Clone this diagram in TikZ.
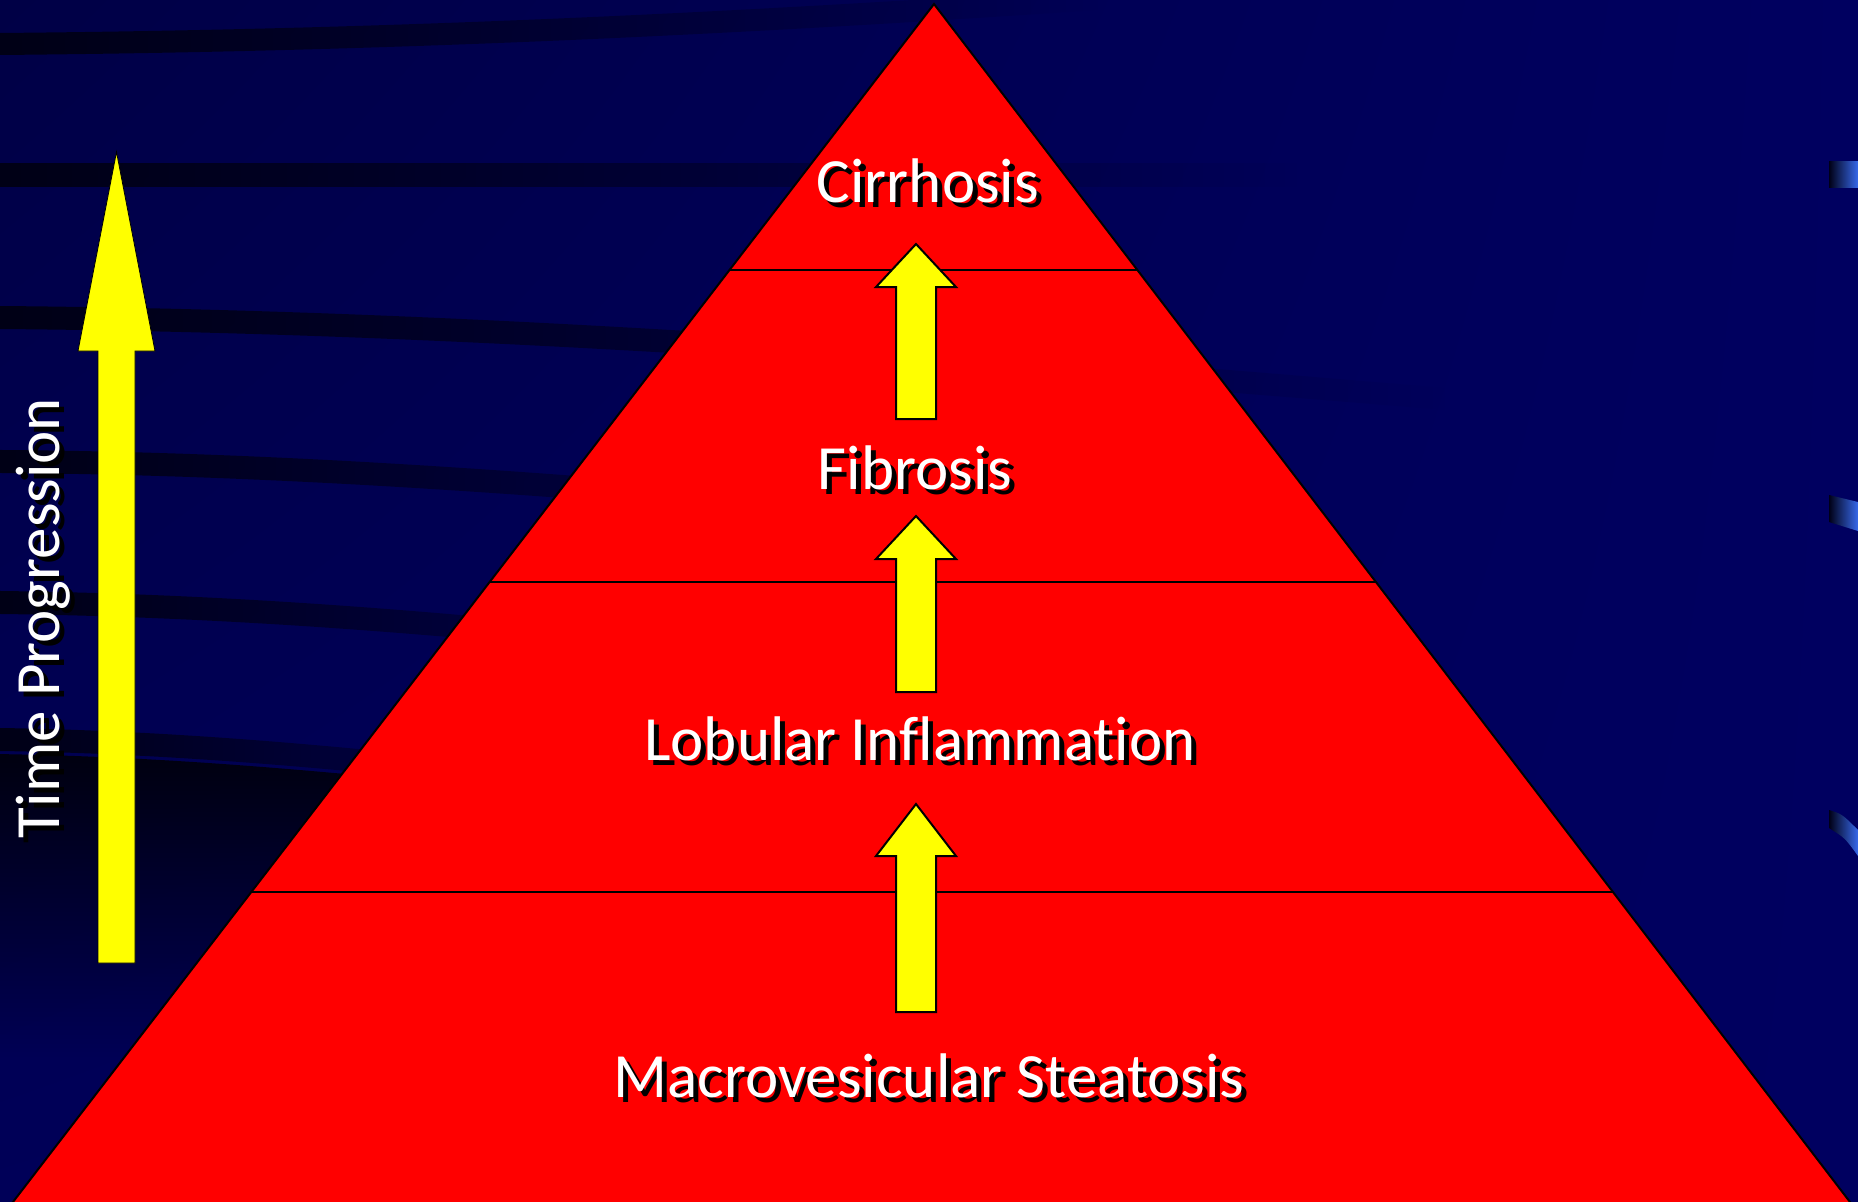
\documentclass[tikz,border=0pt]{standalone}
\usepackage{fontspec}
\setmainfont{Carlito}[Ligatures=NoCommon]
\usetikzlibrary{calc,fadings,shadings}
\definecolor{bgnavy}{RGB}{0,0,96}
\definecolor{bgtl}{RGB}{0,0,70}
\definecolor{bgbl}{RGB}{0,0,88}
\definecolor{stripec}{RGB}{0,0,22}
\definecolor{darkc}{RGB}{0,0,16}
\definecolor{hiblue}{RGB}{55,105,235}
\definecolor{pyrred}{RGB}{255,0,0}
\definecolor{arryellow}{RGB}{255,255,0}
\tikzfading[name=fadeRight, left color=transparent!0, middle color=transparent!0, right color=transparent!100]
\tikzfading[name=fadeDown, top color=transparent!0, middle color=transparent!25, bottom color=transparent!100]
\begin{document}
\begin{tikzpicture}[x=1pt,y=-1pt,
  stripe/.style={fill=stripec, path fading=fadeRight},
  highlight/.style={left color=stripec, right color=hiblue},
  pyr/.style={fill=pyrred, draw=black, line width=2pt, line join=miter},
  tierline/.style={draw=black, line width=2pt},
  blockarrow/.style={fill=arryellow, draw=black, line width=2pt, line join=miter},
  timearrow/.style={fill=arryellow, draw=black, line width=0.8pt, line join=miter},
  lbl/.style={anchor=base, inner sep=0pt, text=white, font=\fontsize{63}{75}\selectfont},
  lblsh/.style={lbl, text=black}]
\useasboundingbox (0,0) rectangle (1858,1202);
% background
\shade[upper left=bgtl, upper right=bgnavy, lower left=bgbl, lower right=bgnavy] (0,0) rectangle (1858,1202);
% dark stripes on the left
\fill[stripe] (0,33) .. controls (330,30) and (660,18) .. (1100,-12) -- (1100,10) .. controls (660,40) and (330,52) .. (0,55) -- cycle;
\fill[stripe] (0,163) -- (1300,163) -- (1300,187) -- (0,187) -- cycle;
\fill[stripe] (0,306) .. controls (500,310) and (1000,350) .. (1450,388) -- (1450,410) .. controls (1000,373) and (500,333) .. (0,329) -- cycle;
\fill[stripe] (0,450) .. controls (300,452) and (600,475) .. (1000,512) -- (1000,535) .. controls (600,498) and (300,475) .. (0,473) -- cycle;
\fill[stripe] (0,591) .. controls (250,594) and (500,615) .. (800,650) -- (800,673) .. controls (500,638) and (250,617) .. (0,614) -- cycle;
\fill[stripe] (0,728) .. controls (200,731) and (400,751) .. (620,778) -- (620,801) .. controls (400,774) and (200,754) .. (0,751) -- cycle;
% dark shadow region lower left
\fill[darkc, path fading=fadeDown] (0,754) .. controls (200,757) and (400,777) .. (700,812) -- (700,1060) -- (0,1060) -- cycle;
% blue highlights at right edge
\shade[highlight] (1829,161) rectangle (1858,187);
\shade[highlight] (1829,495) -- (1858,502) -- (1858,531) -- (1829,522) -- cycle;
\shade[highlight] (1829,810) .. controls (1842,814) .. (1858,830) -- (1858,856) .. controls (1845,838) .. (1829,828) -- cycle;
% pyramid
\coordinate (apex) at (934,4);
\coordinate (bl) at (6.8,1210);
\coordinate (br) at (1856.1,1210);
\draw[pyr] (apex) -- (bl) -- (br) -- cycle;
\foreach \f/\n in {0.2206/1,0.4793/2,0.7363/3}{
  \coordinate (L\n) at ($(apex)!\f!(bl)$);
  \coordinate (R\n) at ($(apex)!\f!(br)$);
  \draw[tierline] (L\n) -- (R\n);
}
% progression arrows
\draw[blockarrow] (916,244) -- (956,287) -- (936,287) -- (936,419) -- (896,419) -- (896,287) -- (876,287) -- cycle;
\draw[blockarrow] (916,516) -- (956,559) -- (936,559) -- (936,692) -- (896,692) -- (896,559) -- (876,559) -- cycle;
\draw[blockarrow] (916,804) -- (956,856) -- (936,856) -- (936,1012) -- (896,1012) -- (896,856) -- (876,856) -- cycle;
% time arrow
\draw[timearrow] (116.5,152) -- (155,351) -- (135,351) -- (135,963) -- (98,963) -- (98,351) -- (78,351) -- cycle;
% labels with shadows
\node[lblsh] (cirrS) at (933,207) {Cirrhosis};
\node[lbl] (cirr) at (928,202) {Cirrhosis};
\node[lblsh] (fibS) at (920,494) {Fibrosis};
\node[lbl] (fib) at (915,489) {Fibrosis};
\node[lblsh] (lobS) at (925,765) {Lobular Inflammation};
\node[lbl] (lob) at (920,760) {Lobular Inflammation};
\node[lblsh] (macS) at (934,1102) {Macrovesicular Steatosis};
\node[lbl] (mac) at (929,1097) {Macrovesicular Steatosis};
\node[lblsh, rotate=90] (timeS) at (64,623) {Time Progression};
\node[lbl, rotate=90] (time) at (59,618) {Time Progression};
\end{tikzpicture}
\end{document}
